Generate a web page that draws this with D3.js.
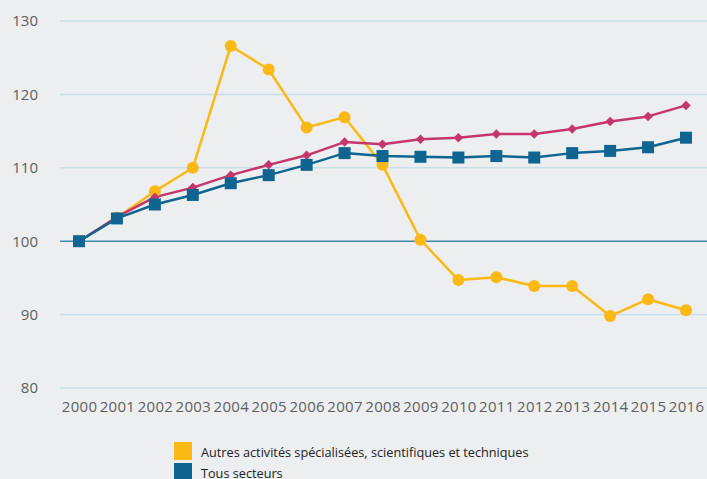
<!DOCTYPE html>
<html>
<head>
<meta charset="utf-8">
<script src="https://cdn.jsdelivr.net/npm/d3@7"></script>
<style>
  body { margin: 0; background: #eceef0; }
  svg { display: block; font-family: "Open Sans", sans-serif; }
</style>
</head>
<body>
<div id="chart"></div>
<script>
// Chart data
var years = [2000, 2001, 2002, 2003, 2004, 2005, 2006, 2007, 2008, 2009, 2010, 2011, 2012, 2013, 2014, 2015, 2016];
var autresValues = [100, 103.2, 106.8, 110, 126.6, 123.4, 115.5, 116.9, 110.4, 100.2, 94.7, 95.1, 93.9, 93.9, 89.8, 92.1, 90.6];
var roseValues = [100, 103.3, 106.0, 107.3, 109.0, 110.4, 111.7, 113.5, 113.2, 113.9, 114.1, 114.6, 114.6, 115.3, 116.3, 117.0, 118.5];
var tousValues = [100, 103.1, 105.0, 106.3, 107.9, 109.0, 110.4, 112.0, 111.6, 111.5, 111.4, 111.6, 111.4, 112.0, 112.3, 112.8, 114.1];
var yTicks = [80, 90, 100, 110, 120, 130];
var legendLabels = ["Autres activités spécialisées, scientifiques et techniques", "Tous secteurs"];

// SVG area
var svgWidth = 707;
var svgHeight = 479;

var svg = d3.select("#chart")
  .append("svg")
  .attr("width", svgWidth)
  .attr("height", svgHeight);

svg.append("rect")
  .attr("width", svgWidth)
  .attr("height", svgHeight)
  .attr("fill", "#eceef0");

// Scales
var xScale = d3.scalePoint()
  .domain(years)
  .range([79, 686]);

var yScale = d3.scaleLinear()
  .domain([80, 130])
  .range([388, 21]);

// Gridlines
svg.append("g")
  .selectAll("line")
  .data(yTicks)
  .enter()
  .append("line")
  .attr("x1", 60)
  .attr("x2", svgWidth)
  .attr("y1", d => yScale(d))
  .attr("y2", d => yScale(d))
  .attr("stroke", d => d === 100 ? "#3f86a8" : "#c6dfea")
  .attr("stroke-width", 1.5);

// Y axis labels
var leftAxis = d3.axisLeft(yScale).tickValues(yTicks).tickSize(0).tickPadding(0);
var yAxisG = svg.append("g")
  .attr("transform", "translate(38, 0)")
  .call(leftAxis);
yAxisG.select(".domain").remove();
yAxisG.selectAll("text")
  .attr("fill", "#606060")
  .style("font-size", "15px")
  .style("font-family", "Open Sans, sans-serif");

// X axis labels
var bottomAxis = d3.axisBottom(xScale).tickSize(0).tickPadding(0);
var xAxisG = svg.append("g")
  .attr("transform", "translate(0, 401)")
  .call(bottomAxis);
xAxisG.select(".domain").remove();
xAxisG.selectAll("text")
  .attr("fill", "#606060")
  .style("font-size", "15px")
  .style("letter-spacing", "0.3px")
  .style("font-family", "Open Sans, sans-serif");

var line = d3.line()
  .x((d, i) => xScale(years[i]))
  .y(d => yScale(d));

// Series lines
function drawLine(values, color) {
  svg.append("path")
    .datum(values)
    .attr("d", line)
    .attr("fill", "none")
    .attr("stroke", color)
    .attr("stroke-width", 2.5)
    .attr("stroke-linejoin", "round");
}

drawLine(autresValues, "#fdb913");
drawLine(roseValues, "#c5366d");
drawLine(tousValues, "#0f6590");

// Markers: circles
svg.append("g")
  .selectAll("circle")
  .data(autresValues)
  .enter()
  .append("circle")
  .attr("cx", (d, i) => xScale(years[i]))
  .attr("cy", d => yScale(d))
  .attr("r", 6)
  .attr("fill", "#fdb913");

// Markers: diamonds
svg.append("g")
  .selectAll("path")
  .data(roseValues)
  .enter()
  .append("path")
  .attr("d", d3.symbol().type(d3.symbolSquare).size(45))
  .attr("transform", (d, i) => `translate(${xScale(years[i])}, ${yScale(d)}) rotate(45)`)
  .attr("fill", "#c5366d");

// Markers: squares
svg.append("g")
  .selectAll("rect")
  .data(tousValues)
  .enter()
  .append("rect")
  .attr("x", (d, i) => xScale(years[i]) - 6)
  .attr("y", d => yScale(d) - 6)
  .attr("width", 12)
  .attr("height", 12)
  .attr("fill", "#0f6590");

// Legend
var legendColors = ["#fdb913", "#0f6590"];
var legend = svg.append("g")
  .selectAll("g")
  .data(legendLabels)
  .enter()
  .append("g")
  .attr("transform", (d, i) => `translate(174, ${442 + i * 21})`);

legend.append("rect")
  .attr("width", 18)
  .attr("height", 18)
  .attr("fill", (d, i) => legendColors[i]);

legend.append("text")
  .attr("x", 27)
  .attr("y", 15)
  .attr("fill", "#222")
  .style("font-size", "12.7px")
  .style("font-family", "Open Sans, sans-serif")
  .text(d => d);
</script>
</body>
</html>
